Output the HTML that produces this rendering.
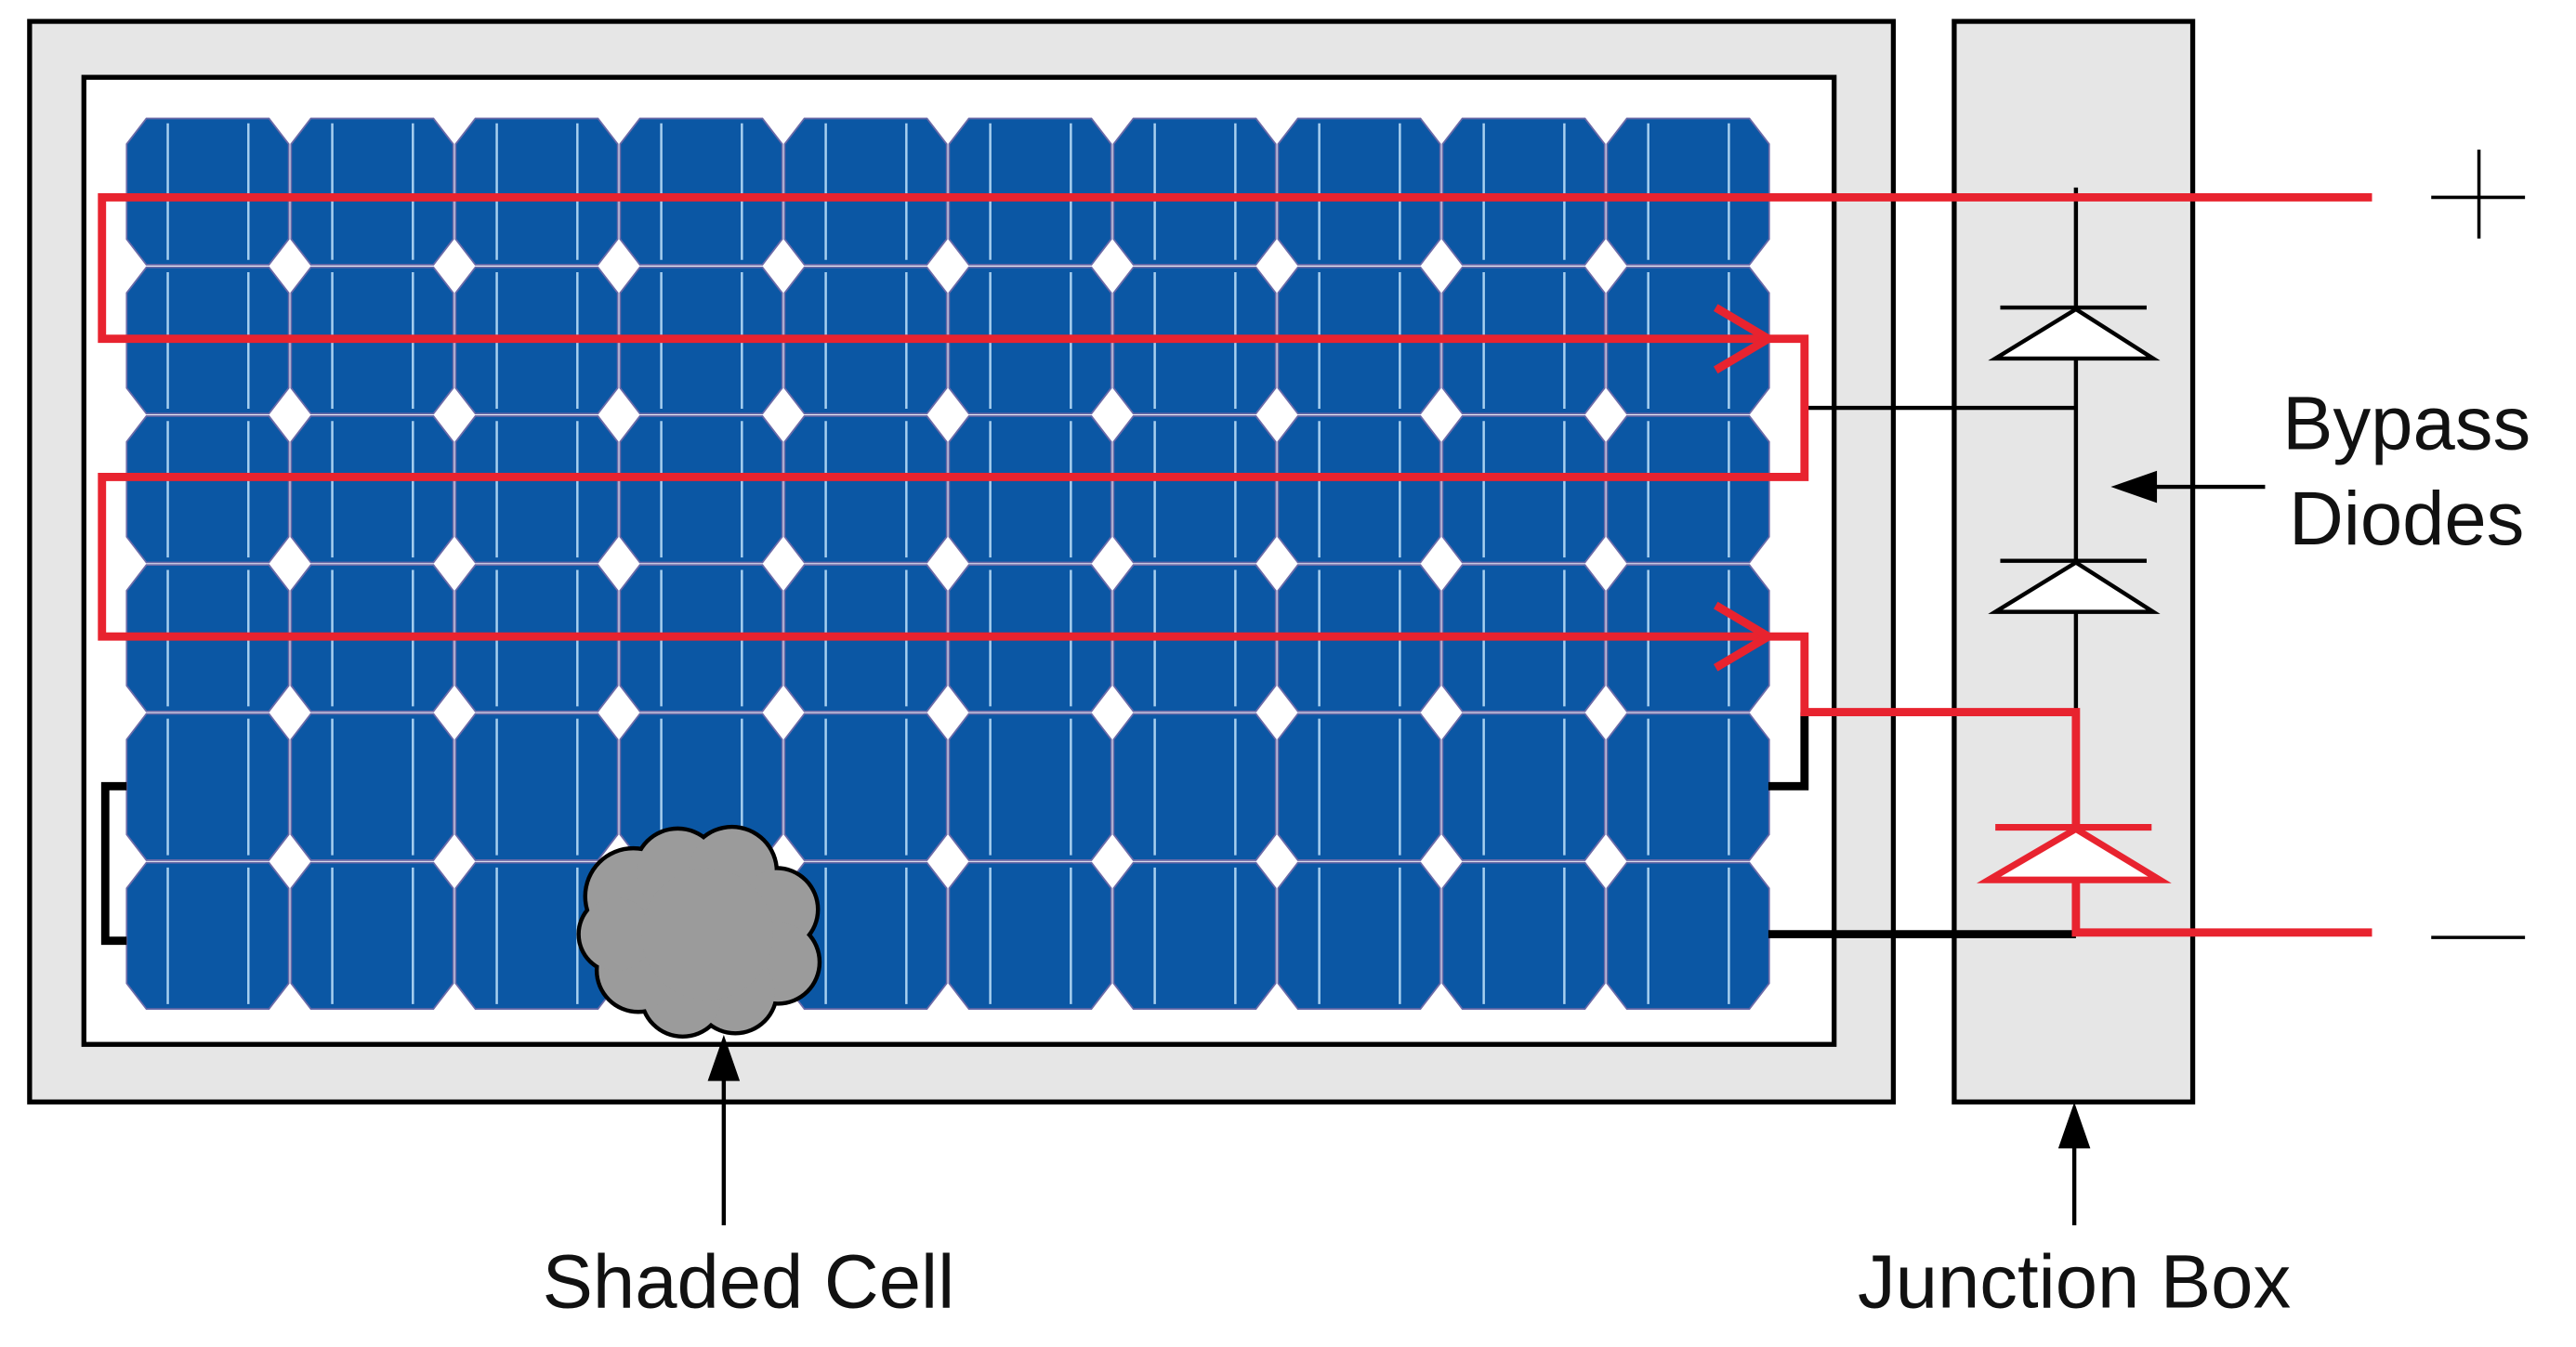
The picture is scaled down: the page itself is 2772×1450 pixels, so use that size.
<!DOCTYPE html>
<html><head><meta charset="utf-8"><style>
html,body{margin:0;padding:0;background:#fff}
svg{display:block}
text{font-family:"Liberation Sans",sans-serif;fill:#111}
</style></head><body>
<svg id="s" width="2772" height="1450" viewBox="0 0 1566 819" preserveAspectRatio="none">
<rect x="18" y="13" width="1133" height="657" fill="#e6e6e6" stroke="#000" stroke-width="3"/>
<rect x="51" y="47" width="1064" height="588" fill="#fff" stroke="#000" stroke-width="3"/>
<g id="cells"></g>
<rect x="1188" y="13" width="145" height="657" fill="#e6e6e6" stroke="#000" stroke-width="3"/>
<g fill="none" stroke="#000" stroke-width="2.5">
<line x1="1262" y1="114" x2="1262" y2="433"/>
<line x1="1097" y1="248" x2="1262" y2="248"/>
<polyline points="77,478 64,478 64,572 77,572" stroke-width="5"/>
<polyline points="1097,433 1097,478 1075,478" stroke-width="5"/>
<line x1="1075" y1="568" x2="1262" y2="568" stroke-width="5"/>
</g>
<g fill="none" stroke="#e8232f" stroke-width="5">
<polyline points="1442,120 62,120 62,206 1097,206 1097,290 62,290 62,387 1097,387 1097,433 1262,433 1262,567 1442,567"/>
<polyline points="1043,187 1075,206 1043,225"/>
<polyline points="1043,368 1075,387 1043,406"/>
</g>
<g stroke="#000" stroke-width="2.5">
<line x1="1216" y1="187" x2="1305" y2="187"/>
<polygon points="1262,188 1309,218 1213,218" fill="#fff"/>
</g>
<g stroke="#000" stroke-width="2.5">
<line x1="1216" y1="341" x2="1305" y2="341"/>
<polygon points="1262,342 1309,372 1213,372" fill="#fff"/>
</g>
<g stroke="#e8232f" stroke-width="4">
<line x1="1213" y1="503" x2="1308" y2="503"/>
<polygon points="1262,504 1313,535 1209,535" fill="#fff"/>
</g>
<g id="cloud"></g>
<g stroke="#000" stroke-width="2.5">
<line x1="440" y1="745" x2="440" y2="650"/>
<polygon points="440,633 432,656 448,656" fill="#000"/>
<line x1="1261" y1="745" x2="1261" y2="690"/>
<polygon points="1261,674 1253,697 1269,697" fill="#000"/>
<line x1="1377" y1="296" x2="1305" y2="296"/>
<polygon points="1287,296 1310,288 1310,304" fill="#000"/>
<line x1="1478" y1="120" x2="1535" y2="120" stroke-width="2"/>
<line x1="1507" y1="91" x2="1507" y2="145" stroke-width="2"/>
<line x1="1478" y1="570" x2="1535" y2="570" stroke-width="2"/>
</g>
<text x="1463" y="273" font-size="46" text-anchor="middle">Bypass</text>
<text x="1463" y="331" font-size="46" text-anchor="middle">Diodes</text>
<text x="455" y="795" font-size="46" text-anchor="middle">Shaded Cell</text>
<text x="1261" y="795" font-size="46" text-anchor="middle">Junction Box</text>
</svg>
<script>
const NS="http://www.w3.org/2000/svg";
const cols=[0,1,2,3,4,5,6,7,8,9];
const rows=[0,1,2,3,4,5];
const g=document.getElementById('cells');
const x0=77,y0=72,cw=100,ch=90.5,c=12;
for(const r of rows){for(const k of cols){
  const x=x0+k*cw,y=y0+r*ch,w=cw-1.5,h=ch-1.5;
  const p=document.createElementNS(NS,'polygon');
  p.setAttribute('points',`${x+c},${y} ${x+w-c},${y} ${x+w},${y+c*1.3} ${x+w},${y+h-c*1.3} ${x+w-c},${y+h} ${x+c},${y+h} ${x},${y+h-c*1.3} ${x},${y+c*1.3}`);
  p.setAttribute('fill','#0b57a4');p.setAttribute('stroke','#6a6aa8');p.setAttribute('stroke-width','1');
  
  
  g.appendChild(p);
  for(const o of [25,74]){const l=document.createElementNS(NS,'line');
    l.setAttribute('x1',x+o);l.setAttribute('x2',x+o);l.setAttribute('y1',y+3);l.setAttribute('y2',y+h-3);
    l.setAttribute('stroke','#a8d0f0');l.setAttribute('stroke-width','1.4');
    
    
    g.appendChild(l);}
}}
const cl=document.getElementById('cloud');
const circ=[[385,545,28],[412,530,25],[445,530,26],[472,553,24],[473,585,24],[447,603,24],[415,605,24],[388,590,24],[375,568,22],[430,568,40]];
for(const pass of [0,1]){for(const [cx,cy,r] of circ){
  const e=document.createElementNS(NS,'circle');
  e.setAttribute('cx',cx);e.setAttribute('cy',cy);e.setAttribute('r',pass?r:r+2.5);
  e.setAttribute('fill',pass?'#9b9b9b':'#000');
  
  
  cl.appendChild(e);}}
</script>
</body></html>
